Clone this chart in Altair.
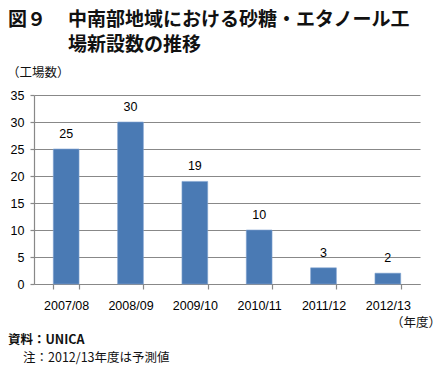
import altair as alt
import pandas as pd

years = ["2007/08", "2008/09", "2009/10", "2010/11", "2011/12", "2012/13"]
counts = [25, 30, 19, 10, 3, 2]
y_ticks = [0, 5, 10, 15, 20, 25, 30, 35]

title_fig = "図９"
title_line1 = "中南部地域における砂糖・エタノール工"
title_line2 = "場新設数の推移"
y_unit = "（工場数）"
x_unit = "（年度）"
source = "資料：UNICA"
note = "注：2012/13年度は予測値"

df = pd.DataFrame({"year": years, "count": counts})

JP = "Noto Sans CJK JP"
NUM = "Liberation Sans"

base = alt.Chart(df)

x_scale = alt.Scale(paddingInner=0.6, paddingOuter=0.3)
y_scale = alt.Scale(domain=[0, 35], nice=False)
x_axis = alt.Axis(labelAngle=0, labelFont=NUM, labelFontSize=12.5,
                  labelColor="#000", labelPadding=10, tickBand="extent",
                  tickSize=5, tickColor="#888", domainColor="#888",
                  domainWidth=1.2, tickWidth=1.2, grid=False)
y_axis = alt.Axis(values=y_ticks, labelFont=NUM, labelFontSize=12.5,
                  labelColor="#000", labelPadding=6, tickSize=4,
                  labelOverlap=False,
                  tickColor="#888", domainColor="#888", domainWidth=1.2,
                  tickWidth=1.2, gridColor="#888", gridWidth=1.2)

bars = base.mark_bar(color="#4a7ab4", stroke="#7fa3d0", strokeWidth=0.6).encode(
    x=alt.X("year:N", sort=years, title=None, scale=x_scale, axis=x_axis),
    y=alt.Y("count:Q", title=None, scale=y_scale, axis=y_axis),
)

labels = base.mark_text(font=NUM, fontSize=12.5, baseline="bottom", dy=-8,
                        color="#000").encode(
    x=alt.X("year:N", sort=years, title=None, scale=x_scale, axis=x_axis),
    y=alt.Y("count:Q", title=None, scale=y_scale, axis=y_axis),
    text=alt.Text("count:Q"),
)

def ann(text, x, y, size, weight="normal", align="left", baseline="middle"):
    return alt.Chart(pd.DataFrame({"t": [text]})).mark_text(
        font=JP, fontSize=size, fontWeight=weight, align=align,
        baseline=baseline, color="#111"
    ).encode(x=alt.value(x), y=alt.value(y), text="t:N")

annots = [
    ann(title_fig, -26, -75, 19, "bold"),
    ann(title_line1, 34, -75, 19, "bold"),
    ann(title_line2, 34, -50, 19, "bold"),
    ann(y_unit, -27, -22, 12.5),
    ann(x_unit, 407, 227.5, 12.5, align="right"),
    ann(source, -26, 245, 12.5, "bold"),
    ann(note, -11, 262.5, 12.5),
]

chart = alt.layer(bars, labels, *annots).properties(
    width=386, height=189,
    autosize=alt.AutoSizeParams(type="none"),
    padding={"left": 26, "top": 87, "right": 20, "bottom": 81},
).configure_view(stroke=None)

chart.save("out.html", embed_options={"renderer": "svg", "actions": False})
